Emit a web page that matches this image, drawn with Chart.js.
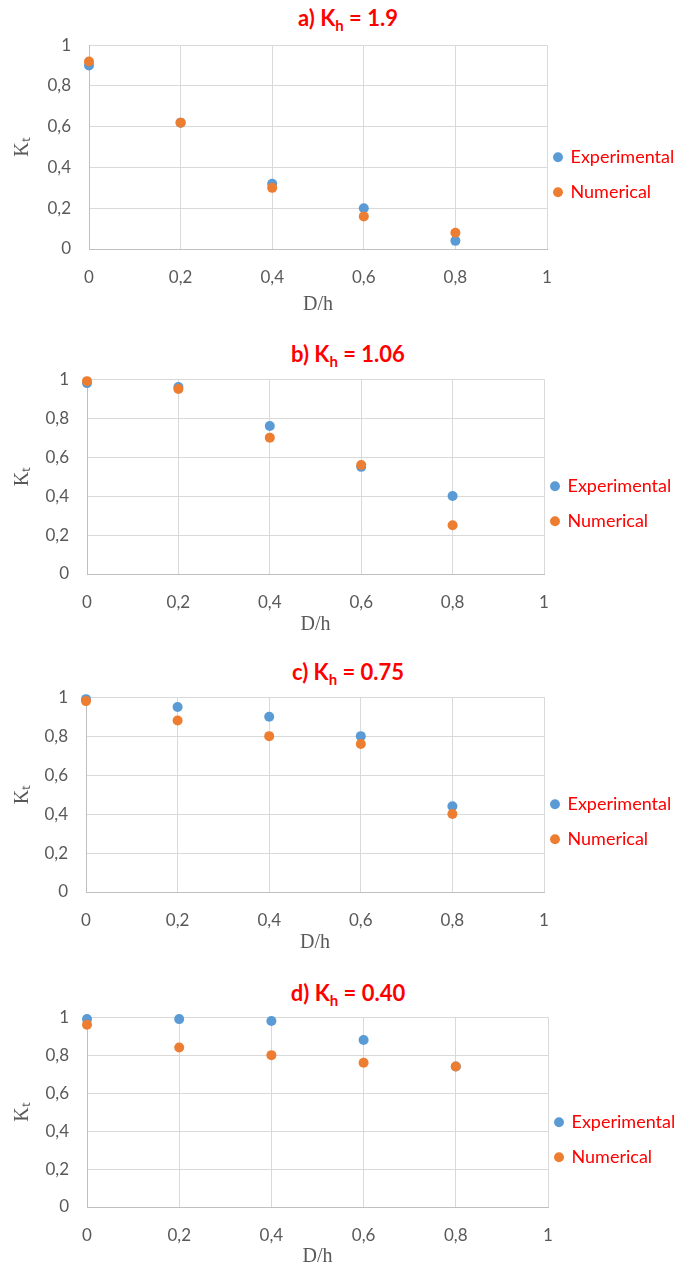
<!DOCTYPE html>
<html>
<head>
<meta charset="utf-8">
<script src="https://cdn.jsdelivr.net/npm/chart.js@4/dist/chart.umd.min.js"></script>
<style>
  html, body { margin: 0; padding: 0; background: #fff; overflow: hidden; }
  body { width: 696px; height: 1266px; position: relative; }
  .ttl { position: absolute; left: 0; width: 696px; text-align: center; color: #ff0000;
         font: bold 22px Lato, sans-serif; line-height: 26px; height: 26px; }
  .ttl sub { font-size: 15px; vertical-align: -5px; line-height: 0; }
  canvas { position: absolute; left: 0; }
</style>
</head>
<body>
<script>
// D/h positions and panel headings
const xValues = [0, 0.2, 0.4, 0.6, 0.8];
const panelLetters = ["a", "b", "c", "d"];
const khValues = ["1.9", "1.06", "0.75", "0.40"];
const seriesNames = ["Experimental", "Numerical"];

// Kt
const expA = [0.90, 0.62, 0.32, 0.20, 0.04];
const numA = [0.92, 0.62, 0.30, 0.16, 0.08];
const expB = [0.98, 0.96, 0.76, 0.55, 0.40];
const numB = [0.99, 0.95, 0.70, 0.56, 0.25];
const expC = [0.99, 0.95, 0.90, 0.80, 0.44];
const numC = [0.98, 0.88, 0.80, 0.76, 0.40];
const expD = [0.99, 0.99, 0.98, 0.88, 0.74];
const numD = [0.96, 0.84, 0.80, 0.76, 0.74];

const xTickLabels = ["0", "0,2", "0,4", "0,6", "0,8", "1"];
const yTickLabels = ["0", "0,2", "0,4", "0,6", "0,8", "1"];

const expSets = [expA, expB, expC, expD];
const numSets = [numA, numB, numC, numD];

// where each plot box sits on the page
const layoutBoxes = [
  { top: 45,   bottom: 249,  left: 89, right: 547, titleY: 18,  xTitleGap: 56, legendY: 157 },
  { top: 379,  bottom: 574,  left: 87, right: 544, titleY: 354, xTitleGap: 51, legendY: 486 },
  { top: 697,  bottom: 892,  left: 86, right: 544, titleY: 672, xTitleGap: 51, legendY: 804 },
  { top: 1017, bottom: 1207, left: 87, right: 548, titleY: 993, xTitleGap: 50, legendY: 1122 }
];

const gray = "#595959";
const BLUE = "#5b9bd5";
const ORANGE = "#ed7d31";
const X_AXIS_H = 70;
const PAD_TOP = 15;
const LEGEND_PAD = 17;
const LEGEND_BOX = 7;
const LEGEND_FONT = 18;

function toPoints(ys) {
  return ys.map((y, i) => ({ x: xValues[i], y: y }));
}

function tickText(labels) {
  return (v) => {
    let i = Math.round(v / 0.2);
    return labels[i] !== undefined ? labels[i] : "";
  };
}

// moves the legend so its first entry sits where the original one is
const legendShift = {
  id: "legendShift",
  afterLayout(chart, args, opts) {
    const lg = chart.legend;
    if (!lg) return;
    let dx = (chart.chartArea.right + opts.markerGap) - (lg.left + LEGEND_PAD + LEGEND_BOX / 2);
    lg.left += dx; lg.right += dx;
    if (opts.firstY !== null) {
      let hgt = lg.bottom - lg.top;
      lg.top = opts.firstY - LEGEND_PAD - LEGEND_FONT / 2;
      lg.bottom = lg.top + hgt;
    }
  }
};

function makeConfig(p, box, padRight, firstY) {
  return {
    type: "scatter",
    data: {
      datasets: [
        {
          label: seriesNames[0],
          data: toPoints(expSets[p]),
          backgroundColor: BLUE,
          borderColor: BLUE,
          pointRadius: 5,
          pointHoverRadius: 5,
          borderWidth: 0,
          clip: false,
          order: 1
        },
        {
          label: seriesNames[1],
          data: toPoints(numSets[p]),
          backgroundColor: ORANGE,
          borderColor: ORANGE,
          pointRadius: 5,
          pointHoverRadius: 5,
          borderWidth: 0,
          clip: false,
          order: 0
        }
      ]
    },
    plugins: [legendShift],
    options: {
      responsive: false,
      maintainAspectRatio: false,
      animation: false,
      events: [],
      layout: { padding: { top: PAD_TOP, left: 0, right: padRight, bottom: 0 } },
      plugins: {
        tooltip: { enabled: false },
        legendShift: { markerGap: 11, firstY: firstY },
        legend: {
          position: "right",
          align: "start",
          labels: {
            usePointStyle: true,
            pointStyle: "circle",
            boxWidth: LEGEND_BOX,
            boxHeight: LEGEND_BOX,
            padding: LEGEND_PAD,
            color: "#ff0000",
            font: { family: "Lato", size: LEGEND_FONT },
            sort: (a, b) => a.datasetIndex - b.datasetIndex
          }
        }
      },
      scales: {
        x: {
          type: "linear",
          min: 0,
          max: 1,
          afterFit: (s) => { s.height = X_AXIS_H; },
          ticks: {
            stepSize: 0.2,
            padding: 18,
            color: gray,
            font: { family: "Lato", size: 17 },
            callback: tickText(xTickLabels)
          },
          grid: { color: "#d9d9d9", drawTicks: false },
          border: { color: "#bfbfbf" },
          title: {
            display: true,
            text: "D/h",
            color: gray,
            font: { family: "Liberation Serif", size: 20 },
            padding: { top: 0, bottom: X_AXIS_H - box.xTitleGap - 12 }
          }
        },
        y: {
          min: 0,
          max: 1,
          afterFit: (s) => { s.width = box.left; },
          ticks: {
            stepSize: 0.2,
            padding: 18,
            color: gray,
            font: { family: "Lato", size: 17 },
            callback: tickText(yTickLabels)
          },
          grid: { color: "#d9d9d9", drawTicks: false },
          border: { color: "#bfbfbf" },
          title: {
            display: true,
            text: "K\u209C",
            color: gray,
            font: { family: "Liberation Serif", size: 20 },
            padding: { top: 11, bottom: 0 }
          }
        }
      }
    }
  };
}

function sizeCanvas(cv, h) {
  cv.width = 696;
  cv.height = h;
  cv.style.width = "696px";
  cv.style.height = h + "px";
}

panelLetters.forEach((letter, p) => {
  const box = layoutBoxes[p];
  const plotH = box.bottom - box.top;

  let t = document.createElement("div");
  t.className = "ttl";
  t.style.top = (box.titleY - 13) + "px";
  t.innerHTML = letter + ") K<sub>h</sub> = " + khValues[p];
  document.body.appendChild(t);

  let cv = document.createElement("canvas");
  cv.style.top = "0px";
  document.body.appendChild(cv);

  // first pass: measure how the library lays the plot box out
  let h = plotH + PAD_TOP + X_AXIS_H;
  sizeCanvas(cv, h);
  let probe = new Chart(cv, makeConfig(p, box, 0, null));
  let padRight = Math.max(0, probe.chartArea.right - box.right);
  h += plotH - (probe.chartArea.bottom - probe.chartArea.top);
  probe.destroy();

  sizeCanvas(cv, h);
  probe = new Chart(cv, makeConfig(p, box, padRight, null));
  let innerTop = probe.chartArea.top;
  h += plotH - (probe.chartArea.bottom - probe.chartArea.top);
  probe.destroy();

  // final chart
  let canvasTop = box.top - innerTop;
  sizeCanvas(cv, h);
  cv.style.top = canvasTop + "px";
  new Chart(cv, makeConfig(p, box, padRight, box.legendY - canvasTop));
});
</script>
</body>
</html>
